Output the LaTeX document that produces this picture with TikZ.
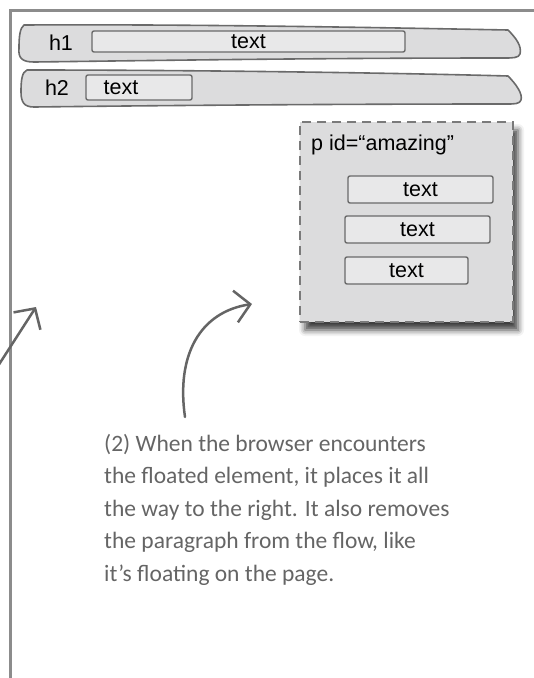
\documentclass[tikz,border=0pt]{standalone}
\usepackage{fontspec}
\usepackage{tikz}
\usetikzlibrary{arrows.meta,shadows.blur}
\newfontfamily\arialfont{Liberation Sans}
\newfontfamily\handfont{Carlito}
\definecolor{framegray}{HTML}{8C8C8C}
\definecolor{barline}  {HTML}{6A6A6A}
\definecolor{barfill}  {HTML}{DCDCDD}
\definecolor{boxfill}  {HTML}{E8E8E9}
\definecolor{dashgray} {HTML}{7A7A7A}
\definecolor{notegray} {HTML}{656565}
\tikzset{
  framel/.style  ={draw=framegray, line width=3pt},
  barshape/.style={draw=barline, fill=barfill, line width=1.6pt, line join=round},
  txtbox/.style  ={draw=barline, fill=boxfill, line width=1.4pt, rounded corners=2pt,
                   inner sep=0pt, font=\arialfont\fontsize{21.5}{21.5}\selectfont},
  taglabel/.style={inner sep=0pt, font=\arialfont\fontsize{21.5}{21.5}\selectfont},
  floatbox/.style={draw=dashgray, fill=barfill, line width=1.6pt,
                   dash pattern=on 9pt off 6pt, inner sep=0pt,
                   minimum width=213pt, minimum height=200pt,
                   blur shadow={shadow xshift=5pt, shadow yshift=-8pt,
                                shadow opacity=75, shadow blur radius=6pt}},
  notearr/.style ={draw=notegray, line width=2.5pt, line cap=round,
                   -{Straight Barb[length=15pt,width=32pt]}},
  notetext/.style={inner sep=0pt, align=left, text=notegray,
                   font=\handfont\fontsize{23.5}{32.5}\selectfont},
}
\begin{document}
\begin{tikzpicture}[x=1pt,y=-1pt]
    \useasboundingbox (0,0) rectangle (534,678);

    \draw[framel] (534,10) -- (10,10) -- (10,678);

    \draw[barshape] (24,25) .. controls (200,24) and (400,28) .. (508,30)
      .. controls (516,38) and (522,46) .. (520,54)
      .. controls (519,58) and (512,58) .. (505,58)
      .. controls (300,58) and (120,61) .. (34,62)
      .. controls (22,62) and (18,58) .. (19,48)
      .. controls (19,36) and (20,28) .. (24,25) -- cycle;
    \draw[barshape] (27,70) .. controls (200,70) and (400,73) .. (508,76)
      .. controls (516,84) and (523,94) .. (521,100)
      .. controls (520,104) and (514,104) .. (507,104)
      .. controls (300,104) and (120,106) .. (34,107)
      .. controls (24,107) and (21,102) .. (21,92)
      .. controls (21,80) and (22,72) .. (27,70) -- cycle;

    \node[taglabel] (h1) at (61,43) {h1};
    \node[txtbox, minimum width=313pt, minimum height=21pt] (h1box) at (248.5,41.5) {text};
    \node[taglabel] (h2) at (57,88) {h2};
    \node[txtbox, minimum width=106pt, minimum height=25pt] (h2box) at (139,87.5) {};
    \node[taglabel] (h2txt) at (121,88) {text};

    \node[floatbox] (amazing) at (406.5,222) {};
    \node[taglabel, anchor=west] (pid) at (311,145) {p id=“amazing”};
    \node[txtbox, minimum width=145pt, minimum height=27pt] (pa) at (420.5,189.5) {text};
    \node[txtbox, minimum width=145pt, minimum height=27pt] (pb) at (417.5,229.5) {text};
    \node[txtbox, minimum width=123pt, minimum height=27pt] (pc) at (406.5,270.5) {text};

    \node[notetext, anchor=north west] (note) at (104,434)
      {(2) When the browser encounters\\the floated element, it places it all\\the way to the right. It also removes\\the paragraph from the flow, like\\it’s floating on the page.};

    \coordinate (lfrom) at (-2,366);
    \coordinate (lto)   at (36,307);
    \coordinate (cfrom) at (185,417);
    \coordinate (cto)   at (252,304);
    \draw[notearr] (lfrom) -- (lto);
    \draw[notearr] (cfrom) .. controls (176,355) and (200,312) .. (cto);
\end{tikzpicture}
\end{document}
